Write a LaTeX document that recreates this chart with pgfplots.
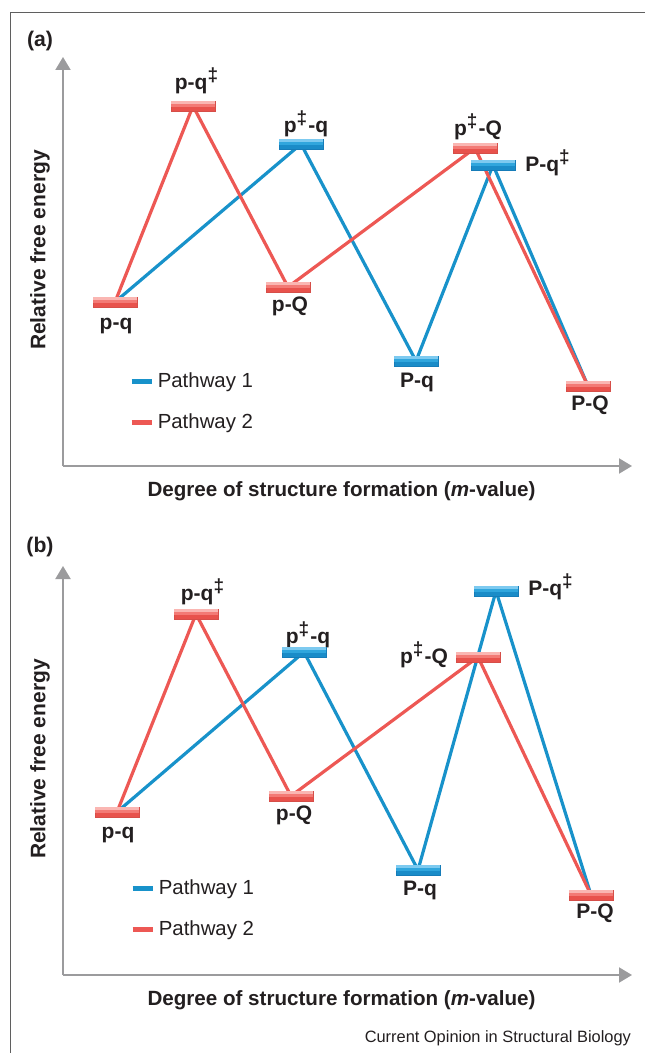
\documentclass[border=0pt]{standalone}
\usepackage{fontspec}
\setmainfont{Liberation Sans}
\usepackage{pgfplots}
\pgfplotsset{compat=1.18}
\usetikzlibrary{arrows.meta}

\definecolor{lineRed}{RGB}{237,88,84}
\definecolor{lineBlue}{RGB}{24,146,202}
\definecolor{rbTop}{RGB}{250,182,178}
\definecolor{rbMid}{RGB}{243,122,117}
\definecolor{rbBot}{RGB}{232,82,76}
\definecolor{rbEdge}{RGB}{214,78,72}
\definecolor{bbTop}{RGB}{125,202,240}
\definecolor{bbMid}{RGB}{48,166,221}
\definecolor{bbBot}{RGB}{26,140,200}
\definecolor{bbEdge}{RGB}{22,124,184}
\definecolor{axisGray}{RGB}{155,155,157}
\definecolor{frameGray}{RGB}{95,95,95}
\definecolor{txt}{RGB}{35,31,32}

\newcommand\dd{\textsuperscript{\fontsize{9.5}{9.5}\selectfont ‡}}

\pgfdeclareplotmark{redbar}{%
  \pgfsetlinewidth{0.25pt}%
  \pgfsetfillcolor{rbBot}\pgfsetstrokecolor{rbEdge}%
  \pgfpathrectangle{\pgfpoint{-11pt}{-2.5pt}}{\pgfpoint{22pt}{5pt}}%
  \pgfusepath{fill,stroke}%
  \pgfsetfillcolor{rbMid}%
  \pgfpathrectangle{\pgfpoint{-10.8pt}{-0.3pt}}{\pgfpoint{21.6pt}{2.6pt}}%
  \pgfusepath{fill}%
  \pgfsetfillcolor{rbTop}%
  \pgfpathrectangle{\pgfpoint{-10.8pt}{1.0pt}}{\pgfpoint{21.6pt}{1.3pt}}%
  \pgfusepath{fill}%
}
\pgfdeclareplotmark{bluebar}{%
  \pgfsetlinewidth{0.25pt}%
  \pgfsetfillcolor{bbBot}\pgfsetstrokecolor{bbEdge}%
  \pgfpathrectangle{\pgfpoint{-11pt}{-2.5pt}}{\pgfpoint{22pt}{5pt}}%
  \pgfusepath{fill,stroke}%
  \pgfsetfillcolor{bbMid}%
  \pgfpathrectangle{\pgfpoint{-10.8pt}{-0.3pt}}{\pgfpoint{21.6pt}{2.6pt}}%
  \pgfusepath{fill}%
  \pgfsetfillcolor{bbTop}%
  \pgfpathrectangle{\pgfpoint{-10.8pt}{1.0pt}}{\pgfpoint{21.6pt}{1.3pt}}%
  \pgfusepath{fill}%
}

\tikzset{
  lab/.style={font=\fontsize{10.5}{12}\selectfont\bfseries, text=txt, inner sep=0pt},
  pw/.style={line width=1.6pt, line join=round},
}
\pgfplotsset{
  energy/.style={
    scale only axis, width=284.5pt, height=204.5pt,
    xmin=0, xmax=569, ymin=0, ymax=409,
    axis lines=left,
    axis line style={draw=axisGray, line width=1pt, -{Triangle[width=7.5pt,length=6.5pt]}},
    ticks=none, clip=false, anchor=origin,
    xlabel={Degree of structure formation (\textit{m}-value)},
    ylabel={Relative free energy},
    xlabel style={at={(axis description cs:0.4895,-0.0611)}, anchor=center, text=txt,
      font=\fontsize{10.3}{12}\selectfont\bfseries},
    ylabel style={at={(axis description cs:-0.0404,0.528)}, anchor=center, text=txt,
      font=\fontsize{10.5}{12}\selectfont\bfseries},
    legend style={draw=none, fill=none, inner sep=0pt, row sep=7.5pt, anchor=west,
      font=\fontsize{10.2}{12}\selectfont, text=txt, cells={anchor=west}},
    legend image code/.code={\draw[#1, line width=2.2pt] (0pt,0pt) -- (10pt,0pt);},
  },
}

\begin{document}
\begin{tikzpicture}
\path[use as bounding box] (0,0) rectangle (322pt,-526.5pt);
\draw[frameGray, line width=0.75pt] (324pt,-6.25pt) -- (5.35pt,-6.25pt) -- (5.35pt,-530pt);
\node[font=\fontsize{10.6}{12}\selectfont\bfseries, text=txt] at (20pt,-20.5pt) {(a)};
\node[font=\fontsize{10.6}{12}\selectfont\bfseries, text=txt] at (20pt,-273.5pt) {(b)};

% ---------------- panel (a)
\begin{axis}[energy, at={(31.5pt,-233pt)},
  legend style={at={(axis cs:66,64)}}]
\addplot[lineBlue, pw] coordinates {(52,164) (238,322) (353,105) (430,301) (525,80)};
\addlegendentry{Pathway 1}
\addplot[lineRed, pw] coordinates {(52,164) (130,360) (225,179) (412,318) (525,80)};
\addlegendentry{Pathway 2}
\addplot[only marks, mark=bluebar, forget plot] coordinates {(238,322) (353,105) (430,301)};
\addplot[only marks, mark=redbar, forget plot] coordinates {(52,164) (130,360) (225,179) (412,318) (525,80)};
\node[lab] at (axis cs:53,140) {p-q};
\node[lab] at (axis cs:134,385) {p-q\dd};
\node[lab] at (axis cs:243,342) {p\dd-q};
\node[lab] at (axis cs:227,160) {p-Q};
\node[lab] at (axis cs:354,84) {P-q};
\node[lab] at (axis cs:415,339) {p\dd-Q};
\node[lab] at (axis cs:485,303) {P-q\dd};
\node[lab] at (axis cs:527,61) {P-Q};
\end{axis}

% ---------------- panel (b)
\begin{axis}[energy, at={(31.5pt,-487.5pt)},
  legend style={at={(axis cs:67,66)}}]
\addplot[lineBlue, pw] coordinates {(54,163) (241,323) (355,105) (433,384) (528,80)};
\addlegendentry{Pathway 1}
\addplot[lineRed, pw] coordinates {(54,163) (133,361) (228,179) (415,318) (528,80)};
\addlegendentry{Pathway 2}
\addplot[only marks, mark=bluebar, forget plot] coordinates {(241,323) (355,105) (433,384)};
\addplot[only marks, mark=redbar, forget plot] coordinates {(54,163) (133,361) (228,179) (415,318) (528,80)};
\node[lab] at (axis cs:55,140) {p-q};
\node[lab] at (axis cs:140,383) {p-q\dd};
\node[lab] at (axis cs:245,340) {p\dd-q};
\node[lab] at (axis cs:231,160) {p-Q};
\node[lab] at (axis cs:357,85) {P-q};
\node[lab] at (axis cs:361,320) {p\dd-Q};
\node[lab] at (axis cs:488,388) {P-q\dd};
\node[lab] at (axis cs:532,62) {P-Q};
\end{axis}

\node[anchor=east, font=\fontsize{8.2}{10}\selectfont, text=txt] at (319pt,-519pt) {Current Opinion in Structural Biology};
\end{tikzpicture}
\end{document}
